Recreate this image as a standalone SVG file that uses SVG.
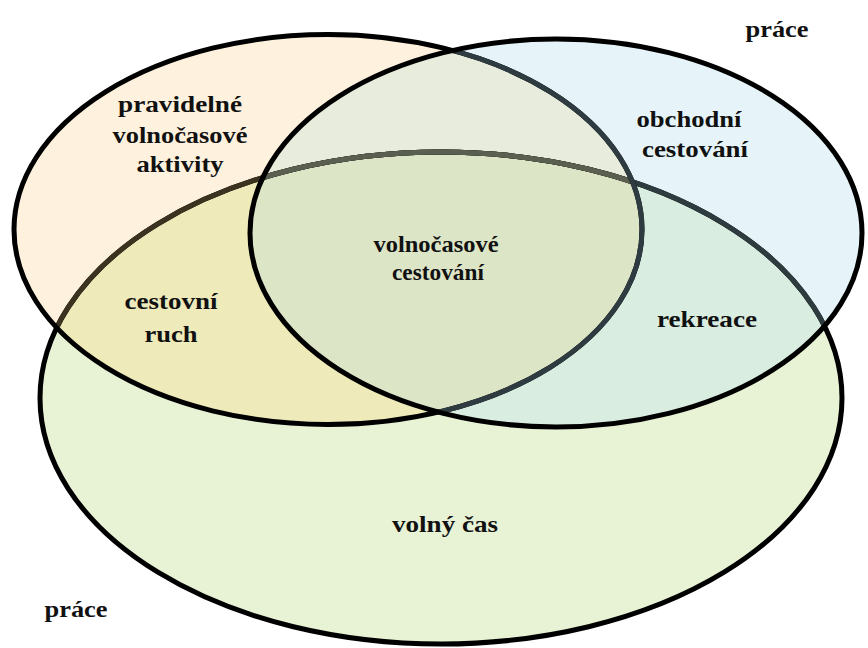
<svg xmlns="http://www.w3.org/2000/svg" xmlns:xlink="http://www.w3.org/1999/xlink" width="868" height="648" viewBox="0 0 868 648">
<style>
.lbl{font-family:"Liberation Serif","Times New Roman",serif;font-weight:bold;font-size:23px;fill:#111;text-anchor:middle}
.o{fill:none;stroke-width:5}
</style>
<defs>
<ellipse id="eO" cx="328" cy="229.5" rx="314" ry="195"/>
<ellipse id="eB" cx="556" cy="233" rx="306" ry="194"/>
<ellipse id="eG" cx="441" cy="398" rx="401" ry="246"/>
<clipPath id="cO"><use href="#eO"/></clipPath>
<clipPath id="cB"><use href="#eB"/></clipPath>
</defs>
<rect width="868" height="648" fill="#fff"/>
<g id="volny-cas"><use href="#eG" fill="#e8f3d6"/></g>
<g id="pravidelne-aktivity"><use href="#eO" fill="#fef2de"/></g>
<g id="obchodni-cestovani"><use href="#eB" fill="#e6f4f9"/></g>
<g id="cestovni-ruch" clip-path="url(#cO)"><use href="#eG" fill="#eeeab9"/></g>
<g clip-path="url(#cB)">
<g id="rekreace"><use href="#eG" fill="#d9ede0"/></g>
<g id="prunik-horni"><use href="#eO" fill="#e8ecdc"/></g>
<g id="volnocasove-cestovani" clip-path="url(#cO)"><use href="#eG" fill="#dde5c7"/></g>
</g>
<g id="outlines">
<use href="#eG" class="o" stroke="#000"/>
<g clip-path="url(#cO)"><use href="#eG" class="o" stroke="#3c3220"/></g>
<g clip-path="url(#cB)"><use href="#eG" class="o" stroke="#2e3c3f"/>
<g clip-path="url(#cO)"><use href="#eG" class="o" stroke="#5b5f4f"/></g></g>
<use href="#eO" class="o" stroke="#000"/>
<g clip-path="url(#cB)"><use href="#eO" class="o" stroke="#2e3c42"/></g>
<use href="#eB" class="o" stroke="#000"/>
</g>
<g id="labels">
<text class="lbl" x="180" y="112" textLength="124" lengthAdjust="spacingAndGlyphs">pravidelné</text>
<text class="lbl" x="180" y="143" textLength="135" lengthAdjust="spacingAndGlyphs">volnočasové</text>
<text class="lbl" x="180" y="172" textLength="87" lengthAdjust="spacingAndGlyphs">aktivity</text>
<text class="lbl" x="689" y="127" textLength="105" lengthAdjust="spacingAndGlyphs">obchodní</text>
<text class="lbl" x="695" y="157" textLength="106" lengthAdjust="spacingAndGlyphs">cestování</text>
<text class="lbl" x="436" y="252" textLength="125" lengthAdjust="spacingAndGlyphs">volnočasové</text>
<text class="lbl" x="438" y="280" textLength="92" lengthAdjust="spacingAndGlyphs">cestování</text>
<text class="lbl" x="171" y="309" textLength="93" lengthAdjust="spacingAndGlyphs">cestovní</text>
<text class="lbl" x="171" y="342" textLength="53" lengthAdjust="spacingAndGlyphs">ruch</text>
<text class="lbl" x="707" y="327" textLength="100" lengthAdjust="spacingAndGlyphs">rekreace</text>
<text class="lbl" x="445" y="532" textLength="106" lengthAdjust="spacingAndGlyphs">volný čas</text>
<text class="lbl" x="777" y="37" textLength="63" lengthAdjust="spacingAndGlyphs">práce</text>
<text class="lbl" x="76" y="617" textLength="63" lengthAdjust="spacingAndGlyphs">práce</text>
</g>
</svg>
